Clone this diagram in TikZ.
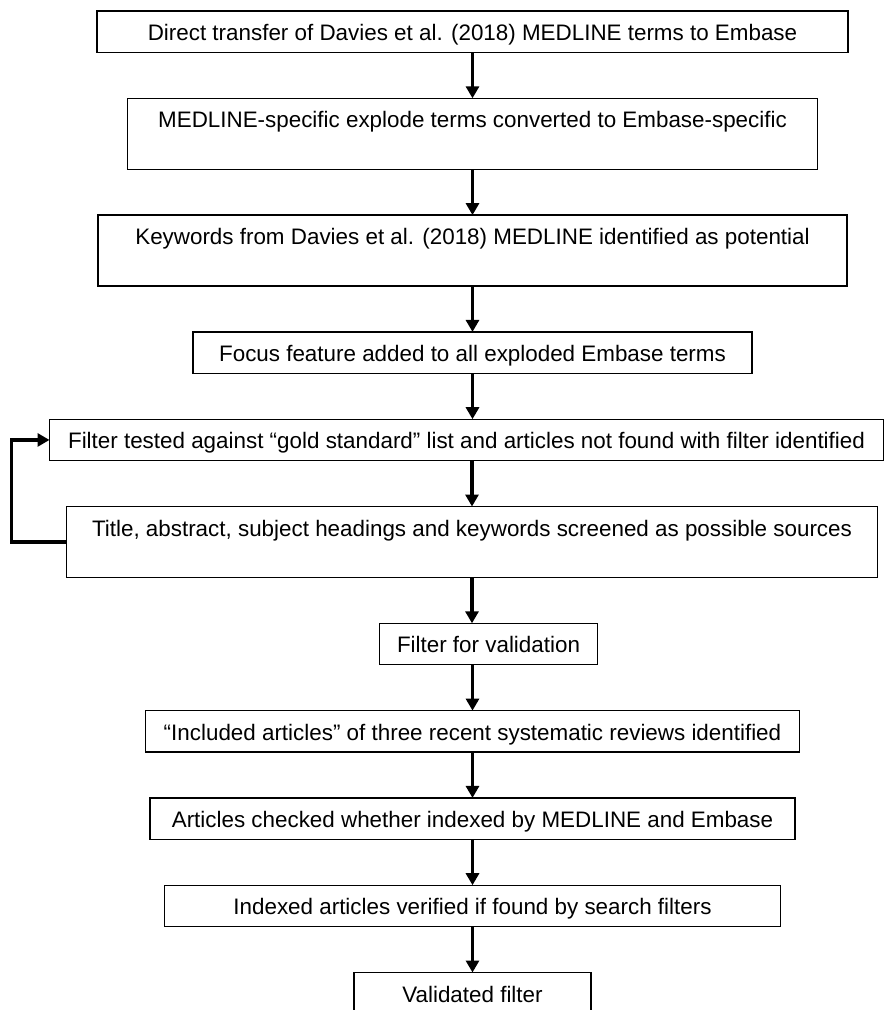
\documentclass[tikz,border=0pt]{standalone}
\usepackage{fontspec}
\setmainfont{Liberation Sans}
\usepackage{tikz}
\usetikzlibrary{positioning}
\usetikzlibrary{arrows.meta}

\tikzset{
  stepbox/.style={draw, line width=1.3pt, inner xsep=0pt, inner ysep=0pt, outer sep=0pt,
    text height=29.5pt, text depth=12pt, font=\fontsize{22.4}{27}\selectfont},
  tallbox/.style={stepbox, text depth=41.5pt},
  flow/.style={->, line width=3.5pt}
}

\begin{document}
\begin{tikzpicture}[x=1pt, y=-1pt, node distance=45.8pt,
    >={Triangle[length=12pt,width=13pt]}]
  \useasboundingbox (0,0) rectangle (885,1010);
  \node (fb1) [stepbox, minimum width=751pt, anchor=north] at (472.5,11) {Direct transfer of Davies et al. (2018) MEDLINE terms to Embase};
  \node (fb2) [tallbox, minimum width=690pt, below=of fb1] {MEDLINE-specific explode terms converted to Embase-specific};
  \node (fb3) [tallbox, minimum width=749pt, below=of fb2] {Keywords from Davies et al. (2018) MEDLINE identified as potential};
  \node (fb4) [stepbox, minimum width=559pt, below=of fb3] {Focus feature added to all exploded Embase terms};
  \node (fb5) [stepbox, minimum width=834pt, below=of fb4, xshift=-6pt] {Filter tested against “gold standard” list and articles not found with filter identified};
  \node (fb6) [tallbox, minimum width=811pt, below=of fb5, xshift=5.5pt] {Title, abstract, subject headings and keywords screened as possible sources};
  \node (fb7) [stepbox, minimum width=218pt, below=of fb6, xshift=16.5pt] {Filter for validation};
  \node (fb8) [stepbox, minimum width=654pt, below=of fb7, xshift=-16pt] {“Included articles” of three recent systematic reviews identified};
  \node (fb9) [stepbox, minimum width=645pt, below=of fb8] {Articles checked whether indexed by MEDLINE and Embase};
  \node (fb10) [stepbox, minimum width=616pt, below=of fb9] {Indexed articles verified if found by search filters};
  \node (fb11) [stepbox, minimum width=237pt, below=of fb10] {Validated filter};

  \draw [flow] (fb1.south) -- (fb1.south |- fb2.north);
  \draw [flow] (fb2.south) -- (fb2.south |- fb3.north);
  \draw [flow] (fb3.south) -- (fb3.south |- fb4.north);
  \draw [flow] (fb4.south) -- (fb4.south |- fb5.north);
  \draw [flow] (fb6.north |- fb5.south) -- (fb6.north);
  \draw [flow] (fb6.south) -- (fb6.south |- fb7.north);
  \draw [flow] (fb8.north |- fb7.south) -- (fb8.north);
  \draw [flow] (fb8.south) -- (fb8.south |- fb9.north);
  \draw [flow] (fb9.south) -- (fb9.south |- fb10.north);
  \draw [flow] (fb10.south) -- (fb10.south |- fb11.north);
  % loop back
  \draw [flow] (fb6.west) -- ++(-55,0) |- (fb5.west);
\end{tikzpicture}
\end{document}
